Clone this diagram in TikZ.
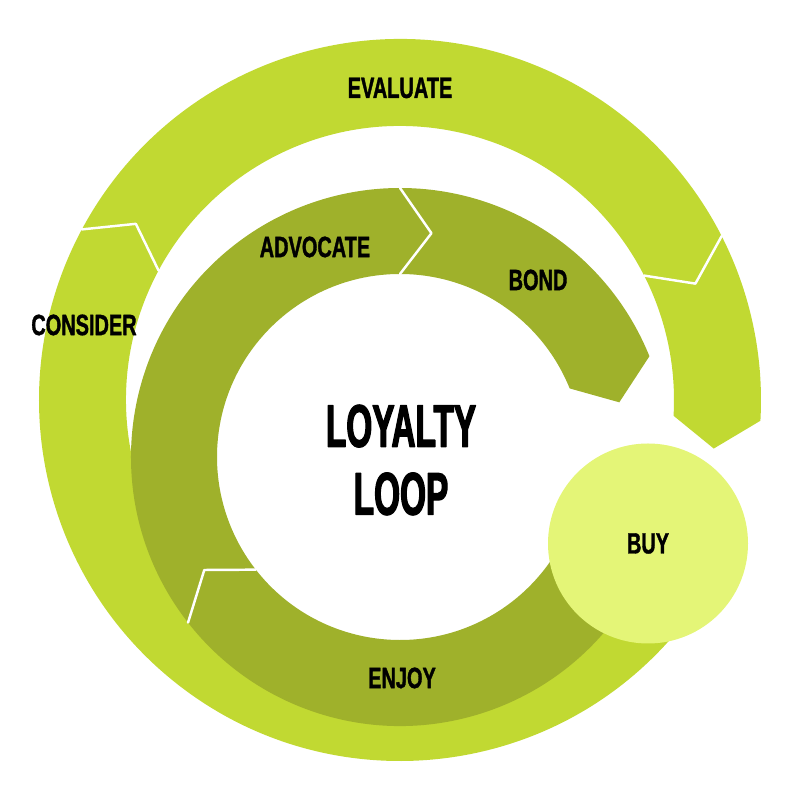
\documentclass[tikz,border=0pt]{standalone}
\usepackage{fontspec}
\setmainfont{Liberation Sans}
\newfontfamily\stagefont{Liberation Sans}[FakeStretch=0.68, FakeBold=1.2]
\newfontfamily\titlefont{Liberation Sans}[FakeStretch=0.555, FakeBold=2]
\definecolor{lightring}{HTML}{C1D932}
\definecolor{darkring}{HTML}{9FB12B}
\definecolor{buyfill}{HTML}{E4F577}
\begin{document}
\begin{tikzpicture}[line join=round, line cap=round,
	stage/.style={font=\stagefont\bfseries\fontsize{8.35}{10}\selectfont, text=black, inner sep=0pt},
	joint/.style={draw=white, line width=0.7pt}]
	\useasboundingbox (0,0) rectangle (8,8);
	% pieces run clockwise from angle #1 to angle #2
	\def\piece#1#2{(#1:\R) arc[start angle=#1, end angle=#2, radius=\R] -- (#2-\d:\m) -- (#2:\r) arc[start angle=#2, end angle=#1, radius=\r] -- (#1-\d:\m) -- cycle}
	\def\joint#1{(#1:\R) -- (#1-\d:\m) -- (#1:\r)}
	\begin{scope}[shift={(4,4)}]
		\def \R{3.61}
		\def \r{2.74}
		\def \m{3.175}
		\def \d{5.5}
		\fill[lightring] \piece{320}{151.8};
		\fill[lightring] \piece{151.8}{27};
		\fill[lightring] \piece{27}{-3.3};
		\draw[joint] \joint{151.8} \joint{27};
	\end{scope}
	\begin{scope}[shift={(4,3.43)}]
		\def \R{2.69}
		\def \r{1.83}
		\def \m{2.26}
		\def \d{8}
		\fill[darkring] \piece{338}{218};
		\fill[darkring] \piece{218}{90};
		\fill[darkring] \piece{90}{22};
		\draw[joint] \joint{218} \joint{90};
	\end{scope}
	\node[stage, circle, fill=buyfill, minimum size=2cm] (buy) at (6.48,2.565) {BUY};
	\node[stage] (evaluate) at (4.00,7.12) {EVALUATE};
	\node[stage] (consider) at (0.84,4.75) {CONSIDER};
	\node[stage] (advocate) at (3.15,5.53) {ADVOCATE};
	\node[stage] (bond) at (5.38,5.20) {BOND};
	\node[stage] (enjoy) at (4.02,1.22) {ENJOY};
	\node[font=\titlefont\bfseries\fontsize{17.1}{19.3}\selectfont, align=center, inner sep=0pt] (loop) at (4.01,3.40) {LOYALTY\\LOOP};
\end{tikzpicture}
\end{document}
